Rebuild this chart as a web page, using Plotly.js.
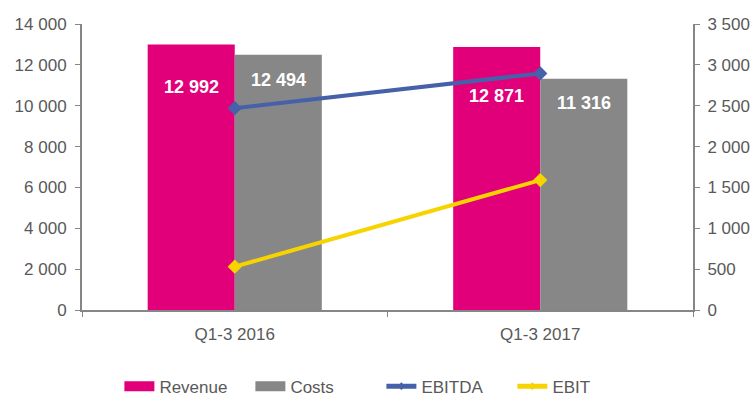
<!DOCTYPE html>
<html>
<head>
<meta charset="utf-8">
<script src="https://cdn.plot.ly/plotly-3.0.1.min.js"></script>
<style>html,body{margin:0;padding:0;background:#fff;}#chart{width:756px;height:400px;}</style>
</head>
<body>
<div id="chart"></div>
<script>
const categories = ["Q1-3 2016", "Q1-3 2017"];
const revenue = [12992, 12871];
const costs = [12494, 11316];
const ebitda = [2470, 2895];
const ebit = [530, 1590];
const seriesNames = ["Revenue", "Costs", "EBITDA", "EBIT"];

const colors = {rev: "#E2007A", cost: "#878787", ebitda: "#4661A9", ebit: "#F7D300"};
const font = "Liberation Sans, Arial, sans-serif";
const fmt = v => v.toString().replace(/\B(?=(\d{3})+(?!\d))/g, " ");

const traces = [
  {type: "bar", x: categories, y: revenue, marker: {color: colors.rev}, showlegend: false, hoverinfo: "none"},
  {type: "bar", x: categories, y: costs, marker: {color: colors.cost}, showlegend: false, hoverinfo: "none"},
  {type: "scatter", mode: "lines+markers", x: categories, y: ebitda, yaxis: "y2", showlegend: false,
   line: {color: colors.ebitda, width: 4}, marker: {symbol: "diamond", size: 11, color: colors.ebitda}},
  {type: "scatter", mode: "lines+markers", x: categories, y: ebit, yaxis: "y2", showlegend: false,
   line: {color: colors.ebit, width: 4}, marker: {symbol: "diamond", size: 11, color: colors.ebit}},
  // legend entries
  {type: "scatter", mode: "lines", x: [null], y: [null], name: seriesNames[0], line: {color: colors.rev, width: 10}},
  {type: "scatter", mode: "lines", x: [null], y: [null], name: seriesNames[1], line: {color: colors.cost, width: 10}},
  {type: "scatter", mode: "lines+markers", x: [null], y: [null], name: seriesNames[2], line: {color: colors.ebitda, width: 5}, marker: {symbol: "diamond", size: 6, color: colors.ebitda}},
  {type: "scatter", mode: "lines+markers", x: [null], y: [null], name: seriesNames[3], line: {color: colors.ebit, width: 5}, marker: {symbol: "diamond", size: 6, color: colors.ebit}}
];

const labelShifts = {rev: [-42, -49], cost: [-25, -24]};
const annotations = [];
categories.forEach((c, i) => {
  annotations.push({x: c, y: revenue[i], xref: "x", yref: "y", text: fmt(revenue[i]), showarrow: false,
    xshift: -43.5, yshift: labelShifts.rev[i], font: {family: font, size: 18, color: "#ffffff", weight: "bold"}});
  annotations.push({x: c, y: costs[i], xref: "x", yref: "y", text: fmt(costs[i]), showarrow: false,
    xshift: 43.5, yshift: labelShifts.cost[i], font: {family: font, size: 18, color: "#ffffff", weight: "bold"}});
});

const axisColor = "#868686";
const tickFont = {family: font, size: 17, color: "#595959"};

const layout = {
  width: 756, height: 400,
  margin: {l: 82, r: 63, t: 24, b: 90, autoexpand: false},
  paper_bgcolor: "#ffffff", plot_bgcolor: "#ffffff",
  barmode: "group", bargap: 0.43, bargroupgap: 0,
  separators: ". ",
  font: {family: font, color: "#595959"},
  showlegend: true,
  legend: {orientation: "h", x: 0.49, xanchor: "center", y: -0.268, yanchor: "middle",
    font: {family: font, size: 17, color: "#595959"}, entrywidth: 86, traceorder: "normal"},
  xaxis: {type: "category", showline: true, linecolor: axisColor, linewidth: 2, ticks: "outside",
    tickson: "boundaries", ticklen: 5, tickcolor: axisColor, tickfont: tickFont, showgrid: false, zeroline: false,
    ticklabelstandoff: 8},
  yaxis: {range: [0, 14000], dtick: 2000, showline: true, linecolor: axisColor, linewidth: 2, ticks: "outside",
    ticklen: 5, tickcolor: axisColor, tickfont: tickFont, showgrid: false, zeroline: false,
    separatethousands: true, exponentformat: "none", ticklabelstandoff: 5},
  yaxis2: {range: [0, 3500], dtick: 500, overlaying: "y", side: "right", showline: true, linecolor: axisColor,
    linewidth: 2, ticks: "outside", ticklen: 5, tickcolor: axisColor, tickfont: tickFont, showgrid: false,
    zeroline: false, separatethousands: true, exponentformat: "none", ticklabelstandoff: 4},
  annotations: annotations
};

Plotly.newPlot("chart", traces, layout, {displayModeBar: false, staticPlot: true});
</script>
</body>
</html>
